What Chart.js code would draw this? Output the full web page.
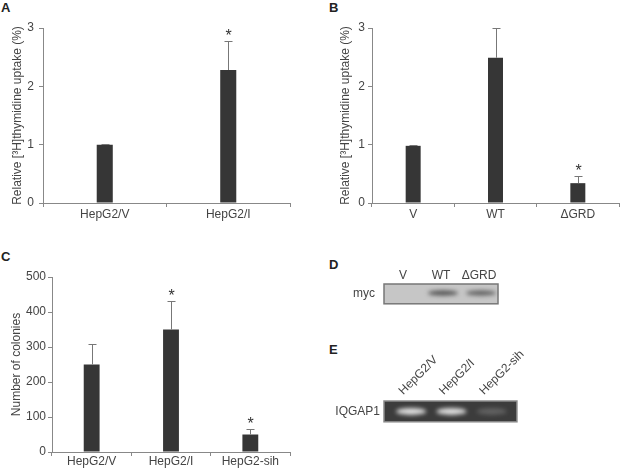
<!DOCTYPE html>
<html>
<head>
<meta charset="utf-8">
<script src="https://cdn.jsdelivr.net/npm/chart.js@4.4.1/dist/chart.umd.min.js"></script>
<style>
  body { margin: 0; background: #fff; width: 620px; height: 470px; position: relative; overflow: hidden; font-family: 'Liberation Sans', Arial, sans-serif; }
  canvas { position: absolute; }
  .tag { position: absolute; font-weight: bold; font-size: 13px; line-height: 13px; color: #222; }
</style>
</head>
<body>
<div class="tag" style="left:1px;top:1px">A</div>
<div class="tag" style="left:329px;top:1px">B</div>
<div class="tag" style="left:1px;top:250px">C</div>
<div class="tag" style="left:329px;top:258px">D</div>
<div class="tag" style="left:329px;top:343px">E</div>

<canvas id="chartA" width="310" height="230" style="left:0;top:0"></canvas>
<canvas id="chartB" width="320" height="230" style="left:300px;top:0"></canvas>
<canvas id="chartC" width="310" height="240" style="left:0;top:230px"></canvas>
<canvas id="gelD" width="190" height="70" style="left:330px;top:250px"></canvas>
<canvas id="gelE" width="210" height="110" style="left:330px;top:330px"></canvas>

<script>
const family = "'Liberation Sans', Arial, sans-serif"
const textColor = '#444'
const axisColor = '#888'
const barColor  = '#363636'
const errColor  = '#777'
const fontSize  = 12

// panel A - thymidine uptake, HepG2 lines
const catsA = ['HepG2/V', 'HepG2/I']
const valsA = [1.0, 2.28]
const errA  = [0.01, 0.5]
const sigA  = [false, true]

// panel B - thymidine uptake, constructs
const catsB = ['V', 'WT', '\u0394GRD']
const valsB = [0.98, 2.49, 0.34]
const errB  = [0.01, 0.51, 0.12]
const sigB  = [false, false, true]

// panel C - colony counts
const catsC = ['HepG2/V', 'HepG2/I', 'HepG2-sih']
const valsC = [250, 350, 50]
const errC  = [59, 82, 15]
const sigC  = [false, true, true]

// panel D / E - band intensities per lane (0 = none)
const lanesD = ['V', 'WT', '\u0394GRD']
const bandsD = [0, 0.85, 0.75]
const lanesE = ['HepG2/V', 'HepG2/I', 'HepG2-sih']
const bandsE = [0.95, 0.95, 0.22]

const uptakeTitle = 'Relative [\u00b3H]thymidine uptake (%)'

/* error bars + significance stars */
const errorBars = {
	id: 'errorBars',
	afterDatasetsDraw(chart) {
		const { ctx, scales: { y } } = chart
		const ds = chart.data.datasets[0]
		const meta = chart.getDatasetMeta(0)
		ctx.save()
		meta.data.forEach((bar, i) => {
			const x = Math.round(bar.x) + 0.5
			const top = Math.round(y.getPixelForValue(ds.data[i] + ds.errors[i])) + 0.5
			ctx.strokeStyle = errColor
			ctx.lineWidth = 1
			ctx.beginPath()
			ctx.moveTo(x, bar.y)
			ctx.lineTo(x, top)
			ctx.moveTo(x - 4, top)
			ctx.lineTo(x + 4, top)
			ctx.stroke()
			if (ds.stars[i]) {
				ctx.fillStyle = '#333'
				ctx.font = '16px ' + family
				ctx.textAlign = 'center'
				ctx.textBaseline = 'alphabetic'
				ctx.fillText('*', x, top - 1)
			}
		})
		ctx.restore()
	}
}

const barChart = (id, cats, vals, errs, sig, yMax, yStep, yTitle, box) => new Chart(document.getElementById(id), {
	type: 'bar',
	data: {
		labels: cats,
		datasets: [{
			data: vals,
			errors: errs,
			stars: sig,
			backgroundColor: barColor,
			borderWidth: 0,
			barPercentage: box.bar,
			categoryPercentage: 1
		}]
	},
	options: {
		responsive: false,
		animation: false,
		layout: { padding: box.pad },
		plugins: { legend: { display: false }, tooltip: { enabled: false } },
		scales: {
			x: {
				grid: { drawOnChartArea: false, tickLength: 4, color: axisColor, offset: true },
				border: { color: axisColor },
				ticks: { color: textColor, font: { family, size: fontSize }, padding: box.xPad, maxRotation: 0, autoSkip: false },
				afterFit: s => { s.height = box.xH }
			},
			y: {
				min: 0,
				max: yMax,
				grid: { drawOnChartArea: false, tickLength: 4, color: axisColor },
				border: { color: axisColor },
				ticks: { stepSize: yStep, color: textColor, font: { family, size: fontSize }, padding: box.yPad },
				title: { display: true, text: yTitle, color: textColor, font: { family, size: fontSize }, padding: { top: box.tPad, bottom: 0 } },
				afterFit: s => { s.width = box.yW }
			}
		}
	},
	plugins: [errorBars]
})

barChart('chartA', catsA, valsA, errA, sigA, 3, 1, uptakeTitle,
	{ bar: 0.13, pad: { left: 0, right: 20, top: 28, bottom: 0 }, xH: 27, yW: 43, xPad: 0, yPad: 5, tPad: 10 })
barChart('chartB', catsB, valsB, errB, sigB, 3, 1, uptakeTitle,
	{ bar: 0.182, pad: { left: 29, right: 1, top: 28, bottom: 0 }, xH: 27, yW: 43, xPad: 0, yPad: 3, tPad: 9 })
barChart('chartC', catsC, valsC, errC, sigC, 500, 100, 'Number of colonies',
	{ bar: 0.2, pad: { left: 0, right: 20, top: 47, bottom: 0 }, xH: 18, yW: 52, xPad: -2, yPad: 2, tPad: 9 })

/* gel / blot strips */
const gel = {
	id: 'gel',
	beforeDraw(chart, args, o) {
		const { ctx, chartArea: a, scales: { x } } = chart
		const left = a.left - o.extL
		const right = a.right + o.extR
		ctx.save()
		ctx.fillStyle = o.bg
		ctx.fillRect(left, a.top, right - left, a.bottom - a.top)
		ctx.strokeStyle = o.edge
		ctx.lineWidth = 1.5
		ctx.strokeRect(left, a.top, right - left, a.bottom - a.top)
		const yc = (a.top + a.bottom) / 2 + o.dy
		ctx.filter = 'blur(' + o.blur + 'px)'
		o.bands.forEach((v, i) => {
			if (!v) return
			const xc = x.getPixelForValue(i) + o.dx
			ctx.globalAlpha = v
			ctx.fillStyle = o.band
			ctx.beginPath()
			ctx.ellipse(xc, yc, o.bw / 2, o.bh / 2, 0, 0, Math.PI * 2)
			ctx.fill()
		})
		ctx.restore()
	}
}

const gelChart = (id, lanes, row, gelOpts, rot, box) => new Chart(document.getElementById(id), {
	type: 'bar',
	data: { labels: lanes, datasets: [] },
	options: {
		responsive: false,
		animation: false,
		layout: { padding: box.pad },
		plugins: { legend: { display: false }, tooltip: { enabled: false }, gel: gelOpts },
		scales: {
			x: {
				type: 'category',
				position: 'top',
				offset: true,
				grid: { display: false, drawTicks: false },
				border: { display: false },
				ticks: { color: textColor, font: { family, size: fontSize }, padding: box.xPad, minRotation: rot, maxRotation: rot, autoSkip: false },
				afterFit: s => { s.height = box.xH }
			},
			y: {
				type: 'category',
				labels: [row],
				offset: true,
				grid: { display: false, drawTicks: false },
				border: { display: false },
				ticks: { color: textColor, font: { family, size: fontSize }, padding: box.yPad },
				afterFit: s => { s.width = box.yW }
			}
		}
	},
	plugins: [gel]
})

gelChart('gelD', lanesD, 'myc',
	{ bands: bandsD, bg: '#c6c6c6', edge: '#777', band: '#3a3a3a', bw: 30, bh: 5, blur: 2, dx: 2, dy: -1, extL: 0, extR: 0 },
	0, { pad: { left: 0, right: 22, top: 0, bottom: 9 }, xH: 34, yW: 54, xPad: 1, yPad: 9 })
gelChart('gelE', lanesE, 'IQGAP1',
	{ bands: bandsE, bg: '#3c3c3c', edge: '#8a8a8a', band: '#e8e8e8', bw: 30, bh: 7, blur: 2, dx: 0, dy: 0, extL: 7, extR: 5 },
	45, { pad: { left: 0, right: 28, top: 0, bottom: 12 }, xH: 71, yW: 61, xPad: 3, yPad: 11 })
</script>
</body>
</html>
